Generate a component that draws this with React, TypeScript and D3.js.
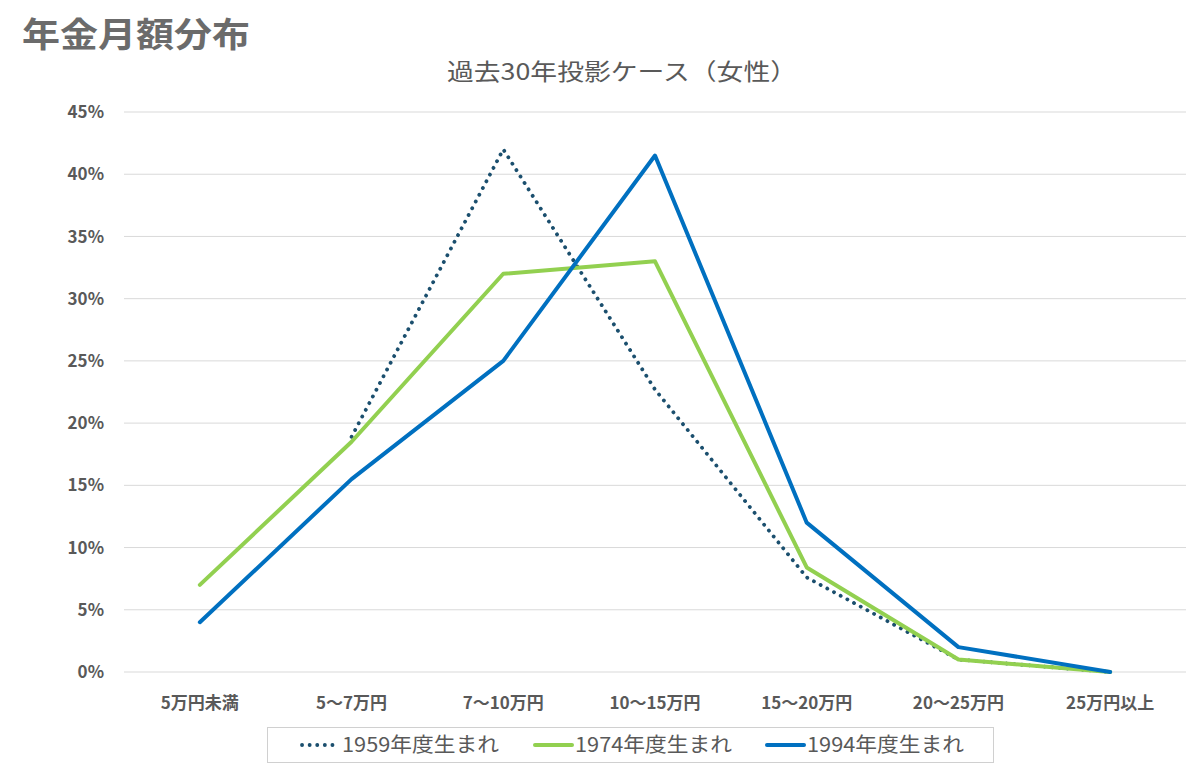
import React from "react";
import * as d3 from "d3";

const categories = ["5万円未満", "5～7万円", "7～10万円", "10～15万円", "15～20万円", "20～25万円", "25万円以上"];
const s1959: (number | null)[] = [null, 18.9, 42, 22.7, 7.6, 1, 0];
const s1974: (number | null)[] = [7, 18.5, 32, 33, 8.4, 1, 0];
const s1994: (number | null)[] = [4, 15.5, 25, 41.5, 12, 2, 0];
const yTicks = [0, 5, 10, 15, 20, 25, 30, 35, 40, 45];
const seriesNames = ["1959年度生まれ", "1974年度生まれ", "1994年度生まれ"];

const W = 1200, H = 771;
const font = "'Noto Sans CJK JP', 'Noto Sans', sans-serif";

export default function App() {
  const x = d3.scaleBand<string>().domain(categories).range([124, 1186]);
  const y = d3.scaleLinear().domain([0, 45]).range([672, 112]);
  const cx = (c: string) => (x(c) as number) + x.bandwidth() / 2;
  const line = d3
    .line<number | null>()
    .defined((d) => d !== null)
    .x((_, i) => cx(categories[i]))
    .y((d) => y(d as number));

  const series = [
    { name: seriesNames[0], data: s1959, color: "#1b4f6e", width: 3.8, dash: "0.1 7.5", cap: "round" as const },
    { name: seriesNames[1], data: s1974, color: "#92d050", width: 4, dash: undefined, cap: "round" as const },
    { name: seriesNames[2], data: s1994, color: "#0070c0", width: 4, dash: undefined, cap: "round" as const },
  ];
  const legendX = [300, 533, 765];

  return (
    <div style={{ position: "absolute", left: 0, top: 0 }}>
      <svg width={W} height={H} style={{ display: "block", background: "#fff" }}>
        <text x={22} y={47} fontFamily={font} fontWeight={700} fontSize={34} textLength={228} lengthAdjust="spacingAndGlyphs" fill="#6b6b6b">年金月額分布</text>
        <text x={447} y={80} fontFamily={font} fontSize={23} textLength={350} lengthAdjust="spacingAndGlyphs" fill="#595959">過去30年投影ケース（女性）</text>
        {yTicks.map((t) => (
          <g key={t}>
            <line x1={124} x2={1186} y1={y(t)} y2={y(t)} stroke="#d9d9d9" strokeWidth={1} />
            <text x={104} y={y(t)} dy="0.36em" textAnchor="end" fontFamily={font} fontWeight={700} fontSize={17} fill="#595959">{t}%</text>
          </g>
        ))}
        {categories.map((c) => (
          <text key={c} x={cx(c)} y={703} dy="0.36em" textAnchor="middle" fontFamily={font} fontWeight={700} fontSize={17} fill="#595959">{c}</text>
        ))}
        {series.map((s) => (
          <path key={s.name} d={line(s.data) || ""} fill="none" stroke={s.color} strokeWidth={s.width} strokeDasharray={s.dash} strokeLinecap={s.cap} strokeLinejoin="round" />
        ))}
        <rect x={267.5} y={727.5} width={726} height={35} fill="#fff" stroke="#d0d0d0" strokeWidth={1} />
        {series.map((s, i) => (
          <g key={s.name}>
            <line x1={legendX[i] + 2} x2={legendX[i] + 39} y1={745} y2={745} stroke={s.color} strokeWidth={s.width} strokeDasharray={s.dash} strokeLinecap={s.cap} />
            <text x={legendX[i] + 42} y={745} dy="0.36em" fontFamily={font} fontSize={20} textLength={157} lengthAdjust="spacingAndGlyphs" fill="#595959">{s.name}</text>
          </g>
        ))}
      </svg>
    </div>
  );
}
